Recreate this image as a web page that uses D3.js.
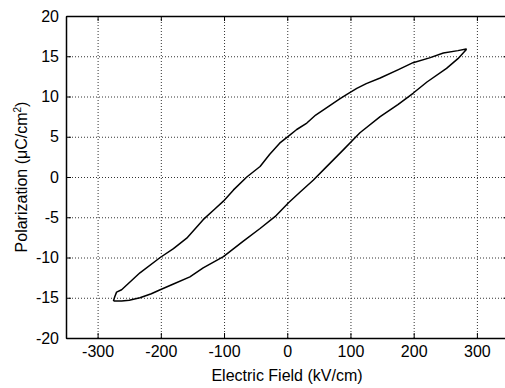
<!DOCTYPE html>
<meta charset="UTF-8">
<html>
<head>
<style>
html, body {
  margin:0;
  padding:0;
  background:#fff;
}
svg {
  display:block;
  font-family: "Liberation Sans", Arial, sans-serif;
}
.grid line {
  stroke:#333;
  stroke-width:1;
  stroke-dasharray:1,2;
}
.grid path {
  display:none;
}
.axis path, .axis line {
  stroke:#000;
}
.axis text {
  font-size:16px;
  fill:#000;
}
.label {
  font-size:16px;
  fill:#000;
}
.loop {
  fill:none;
  stroke:#000;
  stroke-width:1.5;
  stroke-linejoin:round;
}
</style>
</head>
<body>

<svg width="505" height="388"></svg>
<script src="https://d3js.org/d3.v7.min.js"></script>

<script type="text/javascript">
// ascending branch (bottom tip -> top tip)
var upField = [-275, -262, -250, -233, -215, -201, -180, -154, -133, -101, -70, -43, -19, 2, 20, 41, 60, 89, 115, 147, 175, 199, 221, 252, 270, 283];
var upPol   = [-15.4, -15.4, -15.3, -15.0, -14.5, -14.0, -13.3, -12.4, -11.3, -9.9, -8.0, -6.4, -4.9, -3.2, -1.9, -0.4, 1.1, 3.4, 5.5, 7.5, 9.0, 10.4, 11.8, 13.5, 14.7, 15.8];

// descending branch (top tip -> bottom tip)
var downField = [283, 270, 247, 225, 199, 175, 147, 125, 110, 95, 83, 62, 45, 31, 15, 4, -12, -28, -43, -64, -85, -101, -115, -133, -159, -180, -201, -233, -262, -270, -273, -275];
var downPol   = [15.9, 15.7, 15.4, 14.8, 14.2, 13.3, 12.3, 11.6, 11.0, 10.3, 9.7, 8.6, 7.7, 6.7, 5.9, 5.2, 4.2, 2.8, 1.3, 0.0, -1.6, -3.0, -4.0, -5.3, -7.6, -8.9, -10.0, -11.9, -14.0, -14.3, -14.9, -15.4];

var xTicks = [-300, -200, -100, 0, 100, 200, 300];
var yTicks = [-20, -15, -10, -5, 0, 5, 10, 15, 20];

var svg = d3.select("svg");

// plot box; right edge runs a little past the picture, like the scan
var pLeft = 66, pRight = 508.5, pTop = 16, pBottom = 338;

var x = d3.scaleLinear().domain([-350, 350]).range([pLeft, pRight]);
var y = d3.scaleLinear().domain([-20, 20]).range([pBottom, pTop]);

// plain hyphen for negatives, as in the picture
function fmt(d) { return String(d); }

// dotted grid
svg.append("g")
    .attr("class", "grid")
    .attr("transform", "translate(0," + pBottom + ")")
    .call(d3.axisBottom(x).tickValues(xTicks).tickSize(-(pBottom - pTop)).tickFormat(""));

svg.append("g")
    .attr("class", "grid")
    .attr("transform", "translate(" + pLeft + ",0)")
    .call(d3.axisLeft(y).tickValues(yTicks).tickSize(-(pRight - pLeft)).tickFormat(""));

// the loop
var pts = [];
upField.forEach(function(f, i) { pts.push([f, upPol[i]]); });
downField.forEach(function(f, i) { pts.push([f, downPol[i]]); });

var line = d3.line()
    .x(function(d) { return x(d[0]); })
    .y(function(d) { return y(d[1]); });

svg.append("path")
    .datum(pts)
    .attr("class", "loop")
    .attr("d", line);

// axes, ticks pointing inward (matlab style)
svg.append("g")
    .attr("class", "axis")
    .attr("transform", "translate(0," + pBottom + ")")
    .call(d3.axisBottom(x).tickValues(xTicks).tickSizeInner(-5).tickSizeOuter(0).tickPadding(8).tickFormat(fmt));

svg.append("g")
    .attr("class", "axis")
    .attr("transform", "translate(" + pLeft + ",0)")
    .call(d3.axisLeft(y).tickValues(yTicks).tickSizeInner(-5).tickSizeOuter(0).tickPadding(7).tickFormat(fmt));

svg.append("g")
    .attr("class", "axis")
    .attr("transform", "translate(0," + pTop + ")")
    .call(d3.axisTop(x).tickValues(xTicks).tickSizeInner(-5).tickSizeOuter(0).tickFormat(""));

svg.append("g")
    .attr("class", "axis")
    .attr("transform", "translate(" + pRight + ",0)")
    .call(d3.axisRight(y).tickValues(yTicks).tickSizeInner(-5).tickSizeOuter(0).tickFormat(""));

svg.selectAll(".axis path").attr("stroke-width", 1.5);
svg.selectAll(".axis text").filter(function() { return this.textContent === ""; }).remove();

svg.append("text")
    .attr("class", "label")
    .attr("x", 287)
    .attr("y", 381)
    .attr("text-anchor", "middle")
    .text("Electric Field (kV/cm)");

var yl = svg.append("text")
    .attr("class", "label")
    .attr("text-anchor", "middle")
    .attr("transform", "translate(27," + ((pTop + pBottom) / 2) + ") rotate(-90)");
yl.append("tspan").text("Polarization (\u03bcC/cm");
yl.append("tspan").attr("dy", -6).attr("font-size", "10px").text("2");
yl.append("tspan").attr("dy", 6).text(")");

</script>
</body>
</html>
